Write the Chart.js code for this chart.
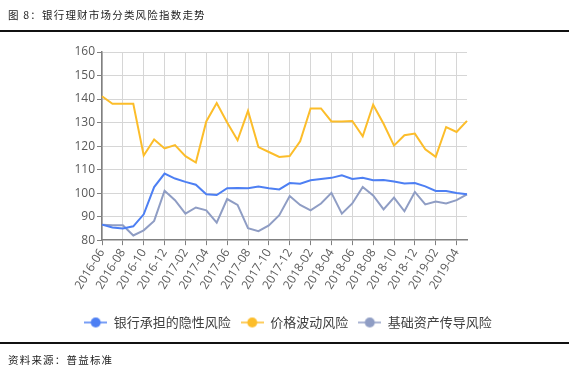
<!DOCTYPE html>
<html>
<head>
<meta charset="utf-8">
<script src="https://cdn.jsdelivr.net/npm/chart.js@4/dist/chart.umd.min.js"></script>
<style>
  body { margin: 0; background: #fff; }
  #wrap { position: relative; width: 576px; height: 377px; overflow: hidden; }
  #title { position: absolute; left: 8px; top: 7px; font: 10.5px "Noto Sans CJK SC"; letter-spacing: 1.2px; color: #222; }
  #rule1 { position: absolute; left: 0; top: 30px; width: 569px; height: 1.5px; background: #111; }
  #rule2 { position: absolute; left: 0; top: 342px; width: 569px; height: 1.5px; background: #111; }
  #source { position: absolute; left: 8px; top: 352px; font: 10.5px "Noto Sans CJK SC"; letter-spacing: 1.2px; color: #222; }
  #chartBox { position: absolute; left: 0; top: 0; width: 576px; height: 377px; }
</style>
</head>
<body>
<div id="wrap">
  <div id="chartBox"><canvas id="riskChart"></canvas></div>
  <div id="title">图 8：银行理财市场分类风险指数走势</div>
  <div id="rule1"></div>
  <div id="rule2"></div>
  <div id="source">资料来源：普益标准</div>
</div>
<script>
// months 2016-06 .. 2019-05
var months = [
  "2016-06", "2016-07", "2016-08", "2016-09", "2016-10", "2016-11", "2016-12",
  "2017-01", "2017-02", "2017-03", "2017-04", "2017-05", "2017-06", "2017-07",
  "2017-08", "2017-09", "2017-10", "2017-11", "2017-12", "2018-01", "2018-02",
  "2018-03", "2018-04", "2018-05", "2018-06", "2018-07", "2018-08", "2018-09",
  "2018-10", "2018-11", "2018-12", "2019-01", "2019-02", "2019-03", "2019-04",
  "2019-05"
];

var bankRisk = [
  86.6, 85.4, 85.0, 85.9, 91.0, 102.6, 108.3, 106.2, 104.8, 103.6, 99.5, 99.2,
  102.1, 102.2, 102.1, 102.8, 102.1, 101.6, 104.3, 104.0, 105.5, 106.0,
  106.5, 107.6, 106.0, 106.5, 105.5, 105.6, 104.9, 104.1, 104.3, 102.9,
  100.9, 100.9, 100.1, 99.5
];

var priceRisk = [
  141.2, 138.0, 138.0, 138.0, 116.0, 122.8, 119.0, 120.4, 115.7, 113.0, 130.5, 138.3,
  130.0, 122.5, 135.0, 119.6, 117.5, 115.4, 115.8, 122.0, 136.0, 136.0,
  130.5, 130.5, 130.7, 124.2, 137.6, 129.5, 120.2, 124.6, 125.3, 118.6,
  115.4, 128.1, 126.0, 130.7
];

var assetRisk = [
  86.6, 86.3, 86.3, 82.0, 84.2, 88.2, 101.0, 97.0, 91.3, 93.9, 92.7, 87.5,
  97.5, 95.0, 85.1, 83.8, 86.3, 90.6, 98.8, 95.0, 92.7, 95.6,
  100.1, 91.3, 95.6, 102.6, 99.0, 93.1, 98.1, 92.3, 100.5, 95.2,
  96.4, 95.6, 97.0, 99.5
];

var seriesNames = ["银行承担的隐性风险", "价格波动风险", "基础资产传导风险"];
var seriesColors = ["#4d7ff3", "#fcbd2a", "#8f9dc4"];

// legend marker: short line with a dot in the middle
function legendMark(color) {
  var c = document.createElement("canvas");
  c.width = 23; c.height = 12;
  var g = c.getContext("2d");
  g.strokeStyle = color; g.lineWidth = 1.5;
  g.beginPath(); g.moveTo(0, 6); g.lineTo(23, 6); g.stroke();
  g.fillStyle = color;
  g.beginPath(); g.arc(11.5, 6, 5, 0, Math.PI * 2); g.fill();
  return c;
}

var allData = [bankRisk, priceRisk, assetRisk];
var datasets = allData.map(function (d, i) {
  return {
    label: seriesNames[i],
    data: d,
    borderColor: seriesColors[i],
    backgroundColor: seriesColors[i],
    borderWidth: 2,
    pointRadius: 0,
    pointStyle: legendMark(seriesColors[i]),
    tension: 0,
    fill: false
  };
});

var tickFont = { family: "'Open Sans', sans-serif", size: 12 };

new Chart(document.getElementById("riskChart").getContext("2d"), {
  type: "line",
  data: { labels: months, datasets: datasets },
  options: {
    responsive: true,
    maintainAspectRatio: false,
    animation: false,
    layout: { padding: { top: 52, left: 0, right: 0, bottom: 38 } },
    plugins: {
      tooltip: { enabled: false },
      legend: {
        position: "bottom",
        labels: {
          usePointStyle: true,
          pointStyleWidth: 23,
          boxWidth: 23,
          padding: 10,
          color: "#404040",
          font: { family: "'Noto Sans CJK SC'", size: 13 }
        }
      }
    },
    scales: {
      x: {
        // extra blank room under the rotated labels
        afterFit: function (s) { s.height = s.height + 13; },
        grid: {
          color: "#d6d6d6",
          borderDash: [4, 4],
          tickBorderDash: [],
          tickColor: "#808080",
          tickLength: 5,
          drawOnChartArea: true
        },
        border: { color: "#808080", width: 1.5, dash: [] },
        ticks: {
          autoSkip: false,
          minRotation: 58,
          maxRotation: 58,
          color: "#595959",
          font: tickFont,
          padding: 1,
          callback: function (v, i) { return i % 2 === 0 ? months[i] : null; }
        }
      },
      y: {
        min: 80,
        max: 160,
        afterFit: function (s) { s.width = 102; },
        grid: {
          color: function (ctx) { return ctx.tick.value === 80 ? "rgba(0,0,0,0)" : "#d6d6d6"; },
          borderDash: [4, 4],
          tickBorderDash: [],
          tickColor: "#808080",
          tickLength: 5
        },
        border: { color: "#808080", width: 1.5 },
        ticks: {
          stepSize: 10,
          color: "#595959",
          font: tickFont,
          padding: 2
        }
      },
      // empty right-hand axis that only keeps the plot's right margin
      yRight: {
        position: "right",
        display: true,
        grid: { display: false },
        border: { display: false },
        ticks: { display: false },
        afterFit: function (s) { s.width = 109; }
      }
    }
  }
});
</script>
</body>
</html>
